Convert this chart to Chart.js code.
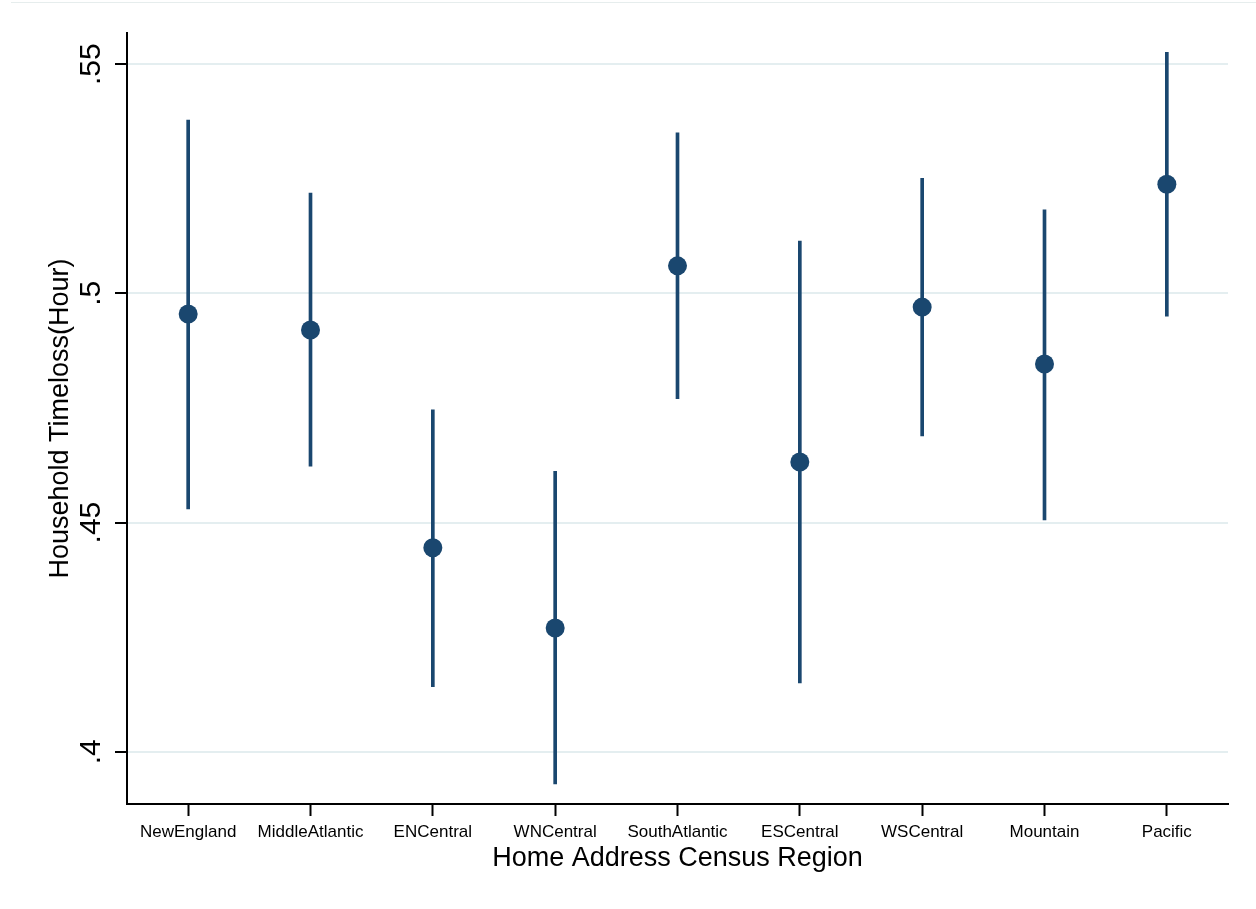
<!DOCTYPE html>
<html>
<head>
<meta charset="utf-8">
<script src="https://cdn.jsdelivr.net/npm/chart.js@4.4.0/dist/chart.umd.min.js"></script>
<style>
    body { margin: 0; background: #fff; }
    #wrap { position: relative; width: 1256px; height: 909px; }
    #topline { position: absolute; left: 11px; right: 0; top: 2px; height: 1px; background: #e6eded; }
</style>
</head>
<body>
<div id="wrap">
    <div id="topline"></div>
    <canvas id="regionChart" width="1256" height="909"></canvas>
</div>
<script>
const regions = ["NewEngland", "MiddleAtlantic", "ENCentral", "WNCentral", "SouthAtlantic",
                 "ESCentral", "WSCentral", "Mountain", "Pacific"];
const estimate = [0.4955, 0.4920, 0.4445, 0.4270, 0.5060, 0.4632, 0.4970, 0.4846, 0.5238];
const ciLow    = [0.4530, 0.4623, 0.4142, 0.3930, 0.4770, 0.4150, 0.4689, 0.4506, 0.4950];
const ciHigh   = [0.5378, 0.5219, 0.4746, 0.4612, 0.5350, 0.5114, 0.5251, 0.5182, 0.5526];
const yTicks = [0.4, 0.45, 0.5, 0.55];
const yTickLabels = [".4", ".45", ".5", ".55"];

const navy = "#1a476f";
const font = "'Liberation Sans', Arial, sans-serif";

// y tick labels are rotated in the reference, chart.js can't rotate y labels
const rotatedYLabels = {
    id: "rotatedYLabels",
    afterDraw(chart) {
        const y = chart.scales.y;
        const c = chart.ctx;
        c.save();
        c.fillStyle = "#000";
        c.font = "30px " + font;
        c.textAlign = "center";
        c.textBaseline = "alphabetic";
        yTicks.forEach((v, i) => {
            c.save();
            c.translate(100, y.getPixelForValue(v));
            c.rotate(-Math.PI / 2);
            c.fillText(yTickLabels[i], 0, 0);
            c.restore();
        });
        c.restore();
    }
};

new Chart(document.getElementById("regionChart"), {
    type: "bar",
    data: {
        labels: regions,
        datasets: [
            {
                type: "line",
                data: estimate,
                showLine: false,
                pointRadius: 9.5,
                pointBackgroundColor: navy,
                pointBorderWidth: 0,
                order: 0
            },
            {
                data: regions.map((r, i) => [ciLow[i], ciHigh[i]]),
                backgroundColor: navy,
                barThickness: 3,
                borderSkipped: false,
                order: 1
            }
        ]
    },
    options: {
        responsive: false,
        animation: false,
        layout: { padding: { left: 0, top: 33, right: 28, bottom: 0 } },
        plugins: {
            legend: { display: false },
            tooltip: { enabled: false }
        },
        scales: {
            x: {
                offset: true,
                grid: {
                    offset: false,   // tick marks under each category
                    drawOnChartArea: false,
                    drawTicks: true,
                    tickLength: 12,
                    tickColor: "#000",
                    tickWidth: 2
                },
                border: { display: true, color: "#000", width: 2 },
                ticks: {
                    color: "#000",
                    padding: 6,
                    maxRotation: 0,
                    autoSkip: false,
                    font: { family: font, size: 17 }
                },
                title: {
                    display: true,
                    text: "Home Address Census Region",
                    color: "#000",
                    padding: { top: 0, bottom: 34 },
                    font: { family: font, size: 27 }
                },
                afterFit(scale) { scale.height = 105; }
            },
            y: {
                min: 0.3886,
                max: 0.5568,
                afterBuildTicks(scale) { scale.ticks = yTicks.map(v => ({ value: v })); },
                grid: {
                    color: "#e4eef0",
                    lineWidth: 2,
                    drawTicks: true,
                    tickLength: 12,
                    tickColor: "#000",
                    tickWidth: 2
                },
                border: { display: true, color: "#000", width: 2 },
                ticks: { display: false },
                title: {
                    display: true,
                    text: "Household Timeloss(Hour)",
                    color: "#000",
                    padding: { top: 44, bottom: 0 },
                    font: { family: font, size: 27 }
                },
                afterFit(scale) { scale.width = 127; }
            }
        }
    },
    plugins: [rotatedYLabels]
});
</script>
</body>
</html>
